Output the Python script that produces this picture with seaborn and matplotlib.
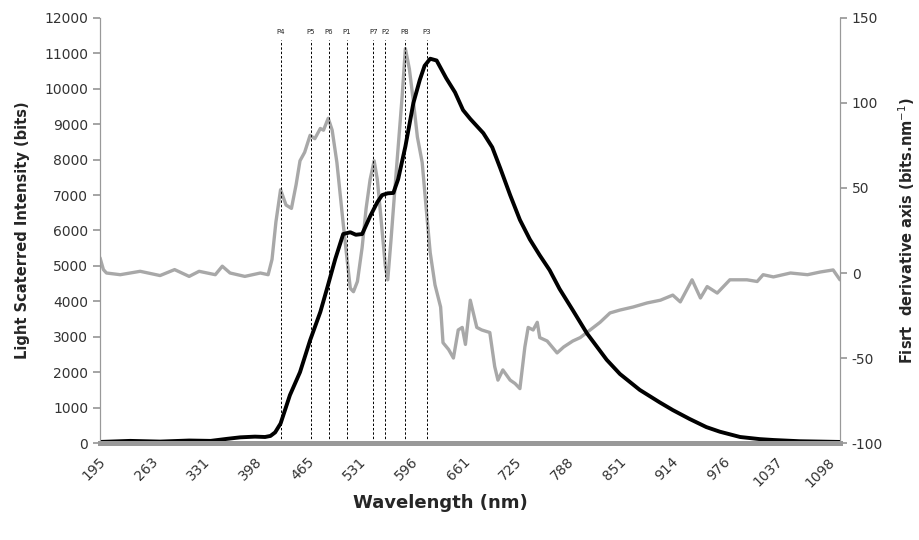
import numpy as np
import matplotlib
matplotlib.use("Agg")
import matplotlib.pyplot as plt
import seaborn as sns

# category labels on the wavelength axis (equally spaced in the original)
tick_wl = [195, 263, 331, 398, 465, 531, 596, 661, 725, 788, 851, 914, 976, 1037, 1098]

# scattered light intensity (left axis, bits)
int_wl = [191, 230, 269, 307, 335, 357, 373, 392, 405, 412, 418, 425, 431, 437,
          450, 463, 476, 485, 495, 505, 514, 521, 529, 539, 548, 554, 561, 568,
          574, 583, 593, 601, 607, 614, 622, 634, 645, 655, 664, 680, 691, 701,
          713, 725, 737, 749, 761, 773, 789, 806, 830, 846, 870, 894, 910, 930,
          950, 966, 990, 1013, 1029, 1060, 1084, 1107]
int_val = [30, 60, 40, 70, 60, 120, 160, 180, 170, 200, 300, 550, 950, 1350,
           2000, 2900, 3700, 4400, 5200, 5900, 5950, 5880, 5900, 6400, 6800, 7000, 7050, 7060,
           7450, 8370, 9600, 10250, 10650, 10850, 10800, 10300, 9900, 9400, 9150, 8750, 8350, 7750,
           7000, 6300, 5750, 5300, 4880, 4350, 3750, 3100, 2350, 1950, 1500, 1150, 930, 680,
           450, 320, 170, 110, 85, 50, 40, 30]

# first derivative (right axis, bits/nm)
der_wl = [191, 195, 199, 217, 243, 269, 288, 307, 320, 341, 350, 360, 379, 399,
          409, 414, 419, 425, 432, 439, 445, 450, 456, 463, 469, 476, 480, 486,
          491, 497, 505, 510, 514, 518, 523, 529, 534, 539, 544, 548, 552, 558,
          561, 565, 570, 574, 579, 583, 588, 593, 598, 604, 609, 614, 620, 627,
          630, 637, 643, 649, 654, 658, 664, 672, 678, 688, 694, 698, 704, 713,
          719, 725, 731, 735, 741, 746, 749, 758, 770, 778, 789, 798, 810, 822,
          834, 846, 862, 879, 895, 910, 919, 933, 943, 951, 963, 978, 998, 1010,
          1017, 1029, 1049, 1069, 1084, 1099, 1107]
der_val = [9, 2, 0, -1, 1, -1.5, 2, -2, 1, -1, 4, 0, -2, 0,
           -1, 8, 30, 49, 40, 38, 52, 66, 71, 81, 79, 85, 84, 91,
           84, 65, 29, 7.6, -9, -11, -5, 15, 38, 55, 66, 55, 35, 4,
           -4, 19, 50, 74, 104, 132, 120, 101, 80, 65, 38, 12, -7, -20,
           -41, -45, -50, -33.5, -32, -42, -16, -32, -33.5, -35, -55, -63, -57, -63,
           -65, -68, -43.5, -32, -33.5, -29, -38, -40, -47, -43.5, -40, -38, -33.5, -29,
           -23.5, -21.8, -20, -17.6, -16, -13, -17, -4, -14.7, -8, -11.8, -4, -4, -5,
           -1, -2.3, 0, -1, 0.6, 1.8, -4]

# marked peaks
peak_names = ["P4", "P5", "P6", "P1", "P7", "P2", "P8", "P3"]
peak_wl = [425, 464, 487, 510, 543, 558, 582, 610]

ext_wl = [134] + tick_wl + [1159]
ext_idx = list(range(-1, len(tick_wl) + 1))


def fwd(x):
    return np.interp(x, ext_wl, ext_idx)


def inv(k):
    return np.interp(k, ext_idx, ext_wl)


sns.set_theme(style="white")
plt.rcParams["font.family"] = ["DejaVu Sans"]
plt.rcParams["axes.unicode_minus"] = False

fig, ax = plt.subplots(figsize=(9.19, 5.4), dpi=100)
fig.subplots_adjust(left=0.1088, right=0.914, top=0.9667, bottom=0.1796)
ax2 = ax.twinx()

sns.lineplot(x=der_wl, y=der_val, ax=ax2, color="#a8a8a8", linewidth=2.4)
sns.lineplot(x=int_wl, y=int_val, ax=ax, color="black", linewidth=2.8)

ax.vlines(peak_wl, 0, 11380, colors="black", linestyles=(0, (2.5, 2)), linewidth=0.7)
for name, w in zip(peak_names, peak_wl):
    ax.text(w, 11600, name, ha="center", va="center", fontsize=5, color="#222222")

ax.set_xscale("function", functions=(fwd, inv))
ax.set_xlim(191, 1107)
ax.set_xticks(tick_wl)
ax.set_xticklabels([str(t) for t in tick_wl], rotation=45, ha="right", va="center",
                   rotation_mode="anchor", fontsize=10, color="#333333")
ax.tick_params(axis="x", length=0, pad=12)

ax.set_ylim(0, 12000)
ax.set_yticks(range(0, 12001, 1000))
ax2.set_ylim(-100, 150)
ax2.set_yticks(range(-100, 151, 50))
ax.tick_params(axis="y", length=5, color="#999999", labelsize=10, labelcolor="#333333", left=True)
ax2.tick_params(axis="y", length=5, color="#999999", labelsize=10, labelcolor="#333333", right=True)

for a in (ax, ax2):
    a.spines["top"].set_visible(False)
    a.spines["left"].set_color("#999999")
    a.spines["right"].set_color("#999999")
    a.spines["left"].set_linewidth(0.8)
    a.spines["right"].set_linewidth(0.8)
    a.spines["bottom"].set_color("#999999")
    a.spines["bottom"].set_linewidth(3.6)
    a.grid(False)

ax.set_zorder(2)
ax.patch.set_visible(False)

ax.set_ylabel("Light Scaterred Intensity (bits)", fontsize=10.5, fontweight="bold")
ax.yaxis.set_label_coords(-0.094, 0.5)
ax2.set_ylabel("Fisrt  derivative axis (bits.nm$^{-1}$)", fontsize=10.5, fontweight="bold")
ax2.yaxis.set_label_coords(1.076, 0.5)
ax.set_xlabel("Wavelength (nm)", fontsize=13, fontweight="bold")
ax.xaxis.set_label_coords(0.46, -0.12)

fig.savefig("out.png", dpi=100)
